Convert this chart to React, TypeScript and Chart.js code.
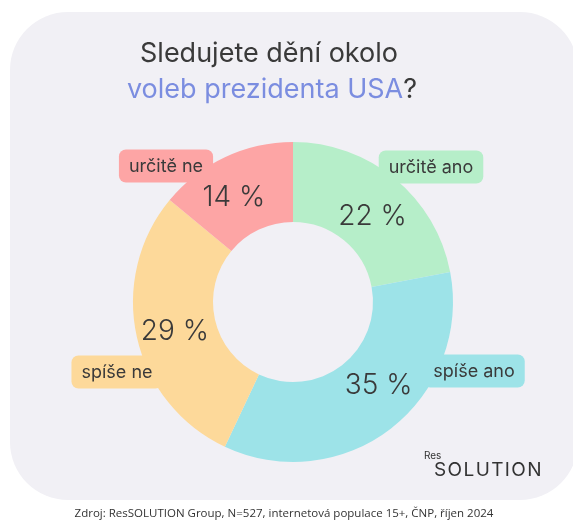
import React, { useEffect, useRef } from "react";
import { Chart, registerables } from "chart.js";

Chart.register(...registerables);

const categories = ["určitě ano", "spíše ano", "spíše ne", "určitě ne"];
const values = [22, 35, 29, 14];
const colors = ["#b6eec9", "#9de3e8", "#fdd99a", "#fda5a5"];
const percentLabels = ["22 %", "35 %", "29 %", "14 %"];
const titleLine1 = "Sledujete dění okolo";
const titleLine2Blue = "voleb prezidenta USA";
const titleLine2Rest = "?";
const logoSmall = "Res";
const logoBig = "SOLUTION";
const sourceText = "Zdroj: ResSOLUTION Group, N=527, internetová populace 15+, ČNP, říjen 2024";

// style: offsets of percent labels from arc mid-point, label box centres relative to chart centre
const pctOffsets = [[3, 7], [12, -11], [-1, 3], [-8, 4]];
const boxCenters = [[138, -135], [181, 69], [-176, 70], [-127, -136]];

const FONT = "Inter, 'Noto Sans', sans-serif";

function roundRect(ctx: CanvasRenderingContext2D, x: number, y: number, w: number, h: number, r: number) {
  ctx.beginPath();
  ctx.moveTo(x + r, y);
  ctx.lineTo(x + w - r, y);
  ctx.arcTo(x + w, y, x + w, y + r, r);
  ctx.lineTo(x + w, y + h - r);
  ctx.arcTo(x + w, y + h, x + w - r, y + h, r);
  ctx.lineTo(x + r, y + h);
  ctx.arcTo(x, y + h, x, y + h - r, r);
  ctx.lineTo(x, y + r);
  ctx.arcTo(x, y, x + r, y, r);
  ctx.closePath();
}

const decorPlugin = {
  id: "decor",
  beforeDraw(chart: any) {
    const ctx = chart.ctx as CanvasRenderingContext2D;
    ctx.save();
    ctx.fillStyle = "#ffffff";
    ctx.fillRect(0, 0, chart.width, chart.height);
    ctx.fillStyle = "#f1f0f5";
    roundRect(ctx, 10, 12, 568, 488, 58);
    ctx.fill();

    // title
    ctx.textBaseline = "alphabetic";
    ctx.font = `400 27px ${FONT}`;
    ctx.fillStyle = "#3a3a3a";
    ctx.textAlign = "center";
    ctx.fillText(titleLine1, 269, 62);
    const wBlue = ctx.measureText(titleLine2Blue).width;
    const wRest = ctx.measureText(titleLine2Rest).width;
    const x0 = 272 - (wBlue + wRest) / 2;
    ctx.textAlign = "left";
    ctx.fillStyle = "#7b8de0";
    ctx.fillText(titleLine2Blue, x0, 98);
    ctx.fillStyle = "#3a3a3a";
    ctx.fillText(titleLine2Rest, x0 + wBlue, 98);

    // logo
    ctx.fillStyle = "#333333";
    ctx.font = `400 10px ${FONT}`;
    ctx.fillText(logoSmall, 424, 459);
    ctx.font = `400 19px ${FONT}`;
    (ctx as any).letterSpacing = "1.4px";
    ctx.fillText(logoBig, 434, 476);
    (ctx as any).letterSpacing = "0px";

    // source
    ctx.font = `400 11.5px 'Open Sans', sans-serif`;
    ctx.fillStyle = "#333333";
    ctx.textAlign = "center";
    ctx.fillText(sourceText, 284, 517);
    ctx.restore();
  },
  beforeDatasetsDraw(chart: any) {
    const ctx = chart.ctx as CanvasRenderingContext2D;
    const meta = chart.getDatasetMeta(0);
    const arc0 = meta.data[0];
    const cx = arc0.x, cy = arc0.y;
    ctx.save();
    ctx.font = `400 18px ${FONT}`;
    categories.forEach((c, i) => {
      const w = ctx.measureText(c).width + 20;
      const h = 33;
      const bx = cx + boxCenters[i][0] - w / 2;
      const by = cy + boxCenters[i][1] - h / 2;
      ctx.fillStyle = colors[i];
      roundRect(ctx, bx, by, w, h, 7);
      ctx.fill();
    });
    ctx.restore();
  },
  afterDatasetsDraw(chart: any) {
    const ctx = chart.ctx as CanvasRenderingContext2D;
    const meta = chart.getDatasetMeta(0);
    ctx.save();
    ctx.textAlign = "center";
    ctx.textBaseline = "middle";
    ctx.fillStyle = "#3a3a3a";
    meta.data.forEach((arc: any, i: number) => {
      const a = (arc.startAngle + arc.endAngle) / 2;
      const r = (arc.innerRadius + arc.outerRadius) / 2;
      const x = arc.x + Math.cos(a) * r + pctOffsets[i][0];
      const y = arc.y + Math.sin(a) * r + pctOffsets[i][1];
      ctx.font = `300 28px ${FONT}`;
      ctx.fillText(percentLabels[i], x, y);
    });
    const cx = meta.data[0].x, cy = meta.data[0].y;
    ctx.font = `400 18px ${FONT}`;
    categories.forEach((c, i) => {
      ctx.fillText(c, cx + boxCenters[i][0], cy + boxCenters[i][1] + 1);
    });
    ctx.restore();
  },
};

export default function App() {
  const ref = useRef<HTMLCanvasElement | null>(null);
  useEffect(() => {
    if (!ref.current) return;
    const chart = new Chart(ref.current, {
      type: "doughnut",
      data: {
        labels: categories,
        datasets: [
          {
            data: values,
            backgroundColor: colors,
            borderWidth: 0,
            hoverOffset: 0,
          },
        ],
      },
      options: {
        responsive: false,
        animation: false,
        cutout: "50%",
        layout: { padding: { left: 133, right: 120, top: 142, bottom: 58 } },
        plugins: { legend: { display: false }, tooltip: { enabled: false } },
      },
      plugins: [decorPlugin],
    });
    return () => chart.destroy();
  }, []);
  return (
    <div style={{ position: "fixed", left: 0, top: 0, width: 573, height: 520 }}>
      <canvas ref={ref} width={573} height={520} style={{ display: "block" }} />
    </div>
  );
}
